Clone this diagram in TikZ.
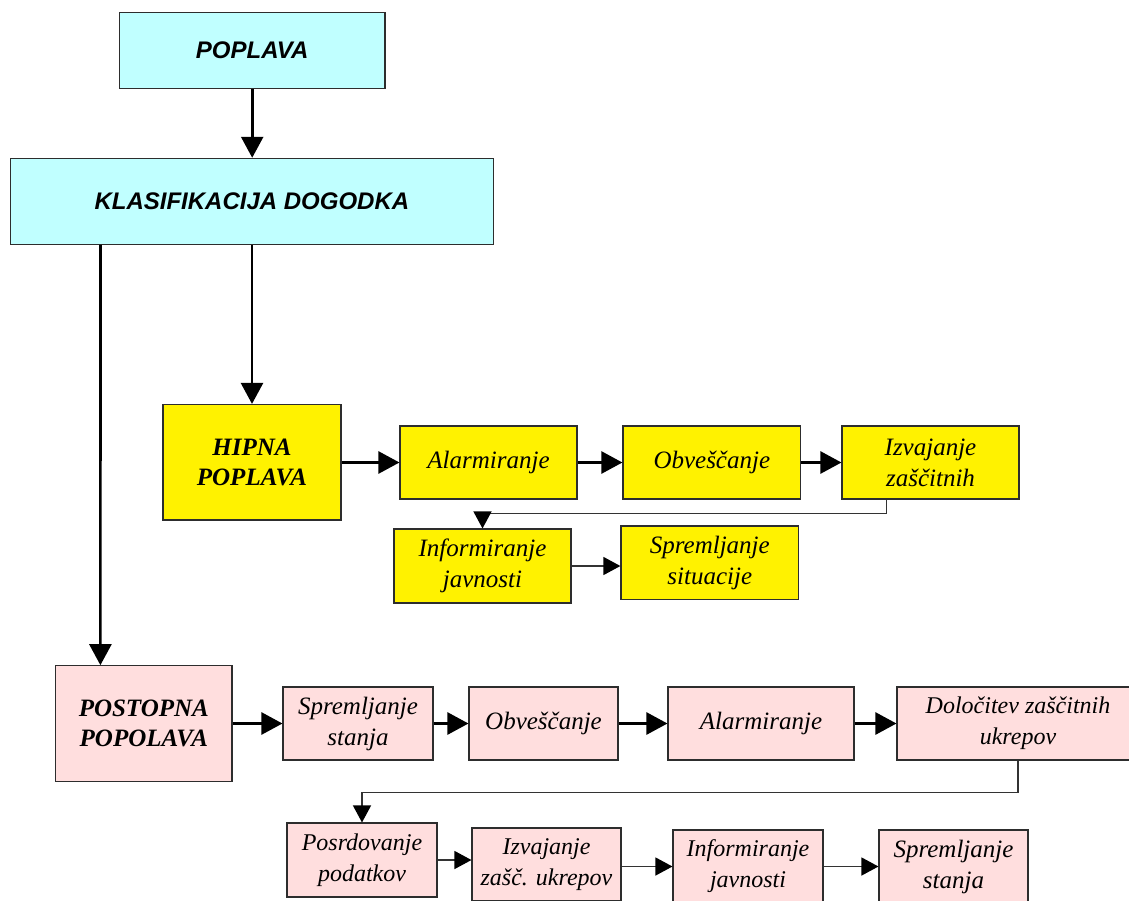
\documentclass[tikz,border=0pt]{standalone}
\usepackage{fontspec}
\setmainfont{Liberation Serif}
\newfontfamily\arialf{Liberation Sans}
\usetikzlibrary{arrows.meta,calc}
\definecolor{cyanc}{RGB}{192,255,255}
\definecolor{pinkc}{RGB}{255,222,222}
\definecolor{bordc}{RGB}{45,45,45}
\tikzset{
  box/.style={draw=bordc, line width=1.1pt, inner sep=0pt, align=center},
  cybox/.style={box, fill=cyanc, font=\arialf\bfseries\itshape\fontsize{24}{28}\selectfont},
  yebox/.style={box, fill=yellow, font=\itshape\fontsize{25}{31}\selectfont},
  pkbox/.style={box, fill=pinkc, font=\itshape\fontsize{25}{31}\selectfont},
  headbox/.style={font=\bfseries\itshape\fontsize{25}{30}\selectfont},
  thickarr/.style={line width=2.6pt, -{Triangle[length=21pt,width=22pt]}},
  thinarr/.style={line width=1.3pt, draw=black!80, -{Triangle[length=17pt,width=18pt,color=black]}},
}
\begin{document}
\begin{tikzpicture}[x=1pt,y=-1pt]
\useasboundingbox (0,0) rectangle (1129,900);
\clip (0,0) rectangle (1129,900);
% top
\node[cybox, minimum width=265.5pt, minimum height=75.6pt] (pop) at (252.2,50.5) {POPLAVA};
\node[cybox, minimum width=482.3pt, minimum height=86pt] (kla) at (251.9,201.3) {KLASIFIKACIJA DOGODKA};
% yellow branch
\node[yebox, headbox, minimum width=178pt, minimum height=115.5pt] (hip) at (252,462.2) {HIPNA\\POPLAVA};
\node[yebox, minimum width=177pt, minimum height=73pt] (a1) at (488.5,462.5) {Alarmiranje};
\node[yebox, minimum width=177.7pt, minimum height=73pt] (o1) at (711.8,462.5) {Obveščanje};
\node[yebox, minimum width=177pt, minimum height=73pt] (iz1) at (930.5,462.5) {Izvajanje\\zaščitnih};
\node[yebox, minimum width=177pt, minimum height=74pt] (inf1) at (482.5,566) {Informiranje\\javnosti};
\node[yebox, minimum width=177.7pt, minimum height=73.3pt] (spr1) at (709.8,562.6) {Spremljanje\\situacije};
% pink branch
\node[pkbox, headbox, minimum width=176.3pt, minimum height=116pt] (post) at (143.8,723.7) {POSTOPNA\\POPOLAVA};
\node[pkbox, minimum width=150pt, minimum height=73pt] (s2) at (358,723.5) {Spremljanje\\stanja};
\node[pkbox, minimum width=149pt, minimum height=73pt] (o2) at (543.5,723.5) {Obveščanje};
\node[pkbox, minimum width=186pt, minimum height=73pt] (a2) at (761,723.5) {Alarmiranje};
\node[pkbox, font=\itshape\fontsize{24}{31}\selectfont, minimum width=242pt, minimum height=73pt] (d2) at (1018,723.5) {Določitev zaščitnih\\ukrepov};
\node[pkbox, font=\itshape\fontsize{24}{31}\selectfont, minimum width=150pt, minimum height=74pt] (pos3) at (362,860) {Posrdovanje\\podatkov};
\node[pkbox, font=\itshape\fontsize{24}{31}\selectfont, minimum width=149pt, minimum height=73pt] (iz3) at (546.5,864.5) {Izvajanje\\zašč. ukrepov};
\node[pkbox, font=\itshape\fontsize{24}{31}\selectfont, minimum width=150pt, minimum height=73pt] (inf3) at (748,866.5) {Informiranje\\javnosti};
\node[pkbox, minimum width=149pt, minimum height=73pt] (spr3) at (953.5,866.5) {Spremljanje\\stanja};
% connectors
\draw[thickarr] (pop.south) -- (pop.south |- kla.north);
\draw[thickarr] (hip.north |- kla.south) -- (hip.north);
\draw[thickarr] ([xshift=90.3pt]kla.south west) -- ([xshift=45.3pt]post.north west);
\draw[thickarr] (hip.east |- a1.west) -- (a1.west);
\draw[thickarr] (a1.east) -- (o1.west);
\draw[thickarr] (o1.east) -- (iz1.west);
\draw[thinarr] ([xshift=44.7pt]iz1.south west) -- ++(0,13.7) -| (inf1.north);
\draw[thinarr] (inf1.east) -- (inf1.east -| spr1.west);
\draw[thickarr] (post.east |- s2.west) -- (s2.west);
\draw[thickarr] (s2.east) -- (o2.west);
\draw[thickarr] (o2.east) -- (a2.west);
\draw[thickarr] (a2.east) -- (d2.west);
\draw[thinarr] (d2.south) -- ++(0,31.7) -| (pos3.north);
\draw[thinarr] (pos3.east) -- (pos3.east -| iz3.west);
\draw[thinarr] (iz3.east |- inf3.west) -- (inf3.west);
\draw[thinarr] (inf3.east) -- (spr3.west);
\end{tikzpicture}
\end{document}
